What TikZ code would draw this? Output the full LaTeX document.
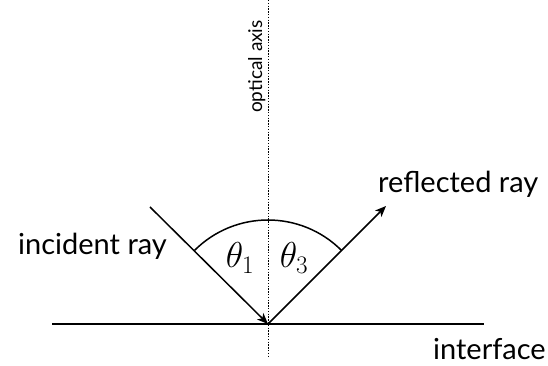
\RequirePackage{fix-cm}
\documentclass[tikz,border=0pt]{standalone}
\usepackage{fontspec}
\setmainfont{Lato}
\usetikzlibrary{arrows.meta}
\begin{document}
\begin{tikzpicture}[x=1pt,y=1pt,
  ray/.style={line width=1.5pt,-{Stealth[length=11pt,width=9pt,inset=3pt]}},
  surf/.style={line width=1.5pt},
  axisline/.style={line width=0.7pt,dash pattern=on 1.4pt off 1.4pt},
  lbl/.style={inner sep=0pt,font=\fontsize{29}{29}\selectfont},
  small/.style={inner sep=0pt,font=\fontsize{19}{19}\selectfont},
  ang/.style={inner sep=0pt,font=\fontsize{36}{36}\selectfont}]
\useasboundingbox (0,0) rectangle (548,366);
\coordinate (O) at (268,42);
\coordinate (inc) at (150,159);
\coordinate (refl) at (386,160);
\coordinate (ifL) at (52,42);
\coordinate (ifR) at (484,42);
\coordinate (axT) at (268,366);
\coordinate (axB) at (268,9);
\draw[axisline] (axT) -- (axB);
\draw[surf] (ifL) -- (ifR);
\draw[ray] (inc) -- (O);
\draw[ray] (O) -- (refl);
\draw[surf] (O) ++(45:104) arc[start angle=45,end angle=135,radius=104];
\node[ang] (t1) at (240,108) {$\theta_1$};
\node[ang] (t3) at (294,108) {$\theta_3$};
\node[lbl,anchor=base west] (li) at (18,111) {incident ray};
\node[lbl,anchor=base west] (lr) at (378,173) {reflected ray};
\node[lbl,anchor=base west] (lf) at (433,6) {interface};
\node[small,rotate=90,anchor=base west] (la) at (262,253) {optical axis};
\end{tikzpicture}
\end{document}
